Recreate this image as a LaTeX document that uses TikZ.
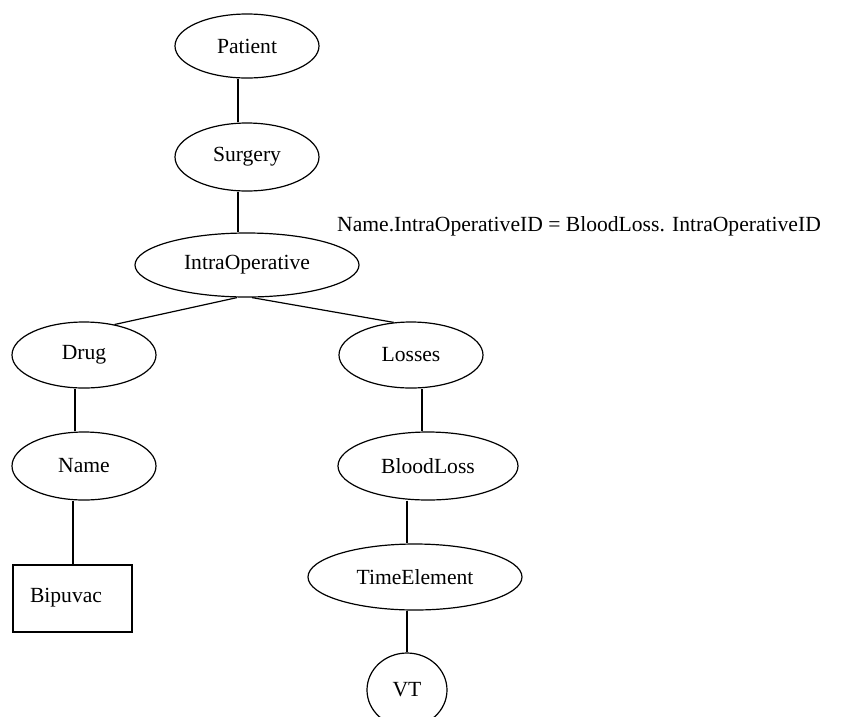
\documentclass[tikz,border=0pt]{standalone}
\usepackage{fontspec}
\setmainfont{Liberation Serif}
\usetikzlibrary{shapes.geometric}
\begin{document}
\begin{tikzpicture}[x=1pt, y=-1pt,
  every node/.style={font=\fontsize{21.6}{25}\selectfont},
  ent/.style={ellipse, draw, line width=1.2pt, inner sep=0pt},
  valbox/.style={rectangle, draw, line width=1.2pt, inner sep=0pt, align=left},
  link/.style={line width=1.2pt}]
  \fill[white] (0,0) rectangle (841,716);
  \useasboundingbox (0,0) rectangle (841,716);

  % entity hierarchy
  \node[ent, minimum width=144pt, minimum height=64pt] (patient) at (247,46) {Patient};
  \node[ent, minimum width=144pt, minimum height=68pt] (surgery) at (247,157) {Surgery};
  \node[ent, minimum width=224pt, minimum height=64pt] (intra) at (247,265) {IntraOperative};
  \node[ent, minimum width=144pt, minimum height=66pt] (drug) at (84,355) {Drug};
  \node[ent, minimum width=144pt, minimum height=66pt] (losses) at (411,355) {Losses};
  \node[ent, minimum width=144pt, minimum height=68pt] (name) at (84,466) {Name};
  \node[ent, minimum width=180pt, minimum height=68pt] (blood) at (428,466) {BloodLoss};
  \node[valbox, minimum width=119pt, minimum height=67pt, text width=85pt] (bip) at (72.5,598.5) {\raisebox{6pt}{Bipuvac}};
  \node[ent, minimum width=214pt, minimum height=66pt] (time) at (415,577) {TimeElement};
  \node[ent, minimum width=80pt, minimum height=74pt] (vt) at (407,690) {VT};

  % join condition
  \node[anchor=base west, inner sep=0pt] (cond) at (337,231) {Name.IntraOperativeID = BloodLoss. IntraOperativeID};

  % connectors
  \draw[link] ([xshift=-9pt]patient.south) -- ([xshift=-9pt]surgery.north);
  \draw[link] ([xshift=-9pt]surgery.south) -- ([xshift=-9pt]intra.north);
  \draw[link] ([xshift=-10pt]intra.south) -- (drug.45);
  \draw[link] ([xshift=5pt]intra.south) -- (losses.118);
  \draw[link] ([xshift=-9pt]drug.south) -- ([xshift=-9pt]name.north);
  \draw[link] ([xshift=11pt]losses.south) -- ([xshift=-6pt]blood.north);
  \draw[link] ([xshift=-11pt]name.south) -- ([xshift=0.5pt]bip.north);
  \draw[link] ([xshift=-21pt]blood.south) -- ([xshift=-8pt]time.north);
  \draw[link] ([xshift=-8pt]time.south) -- (vt.north);
\end{tikzpicture}
\end{document}
